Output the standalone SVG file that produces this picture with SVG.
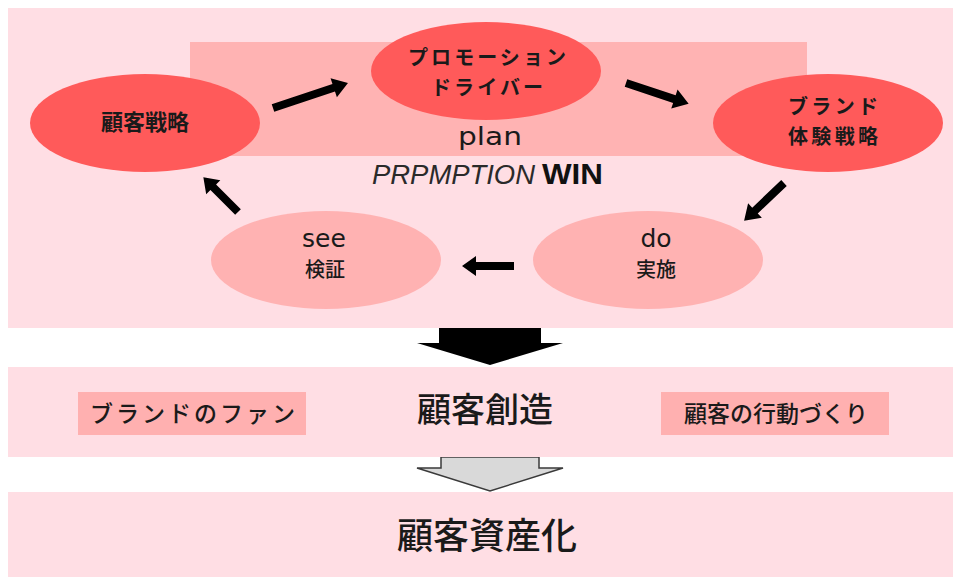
<svg xmlns="http://www.w3.org/2000/svg" width="954" height="579" viewBox="0 0 954 579">
<style>
.band{fill:#FFDEE4}
.plan{fill:#FFB3B3}
.red{fill:#FF5A5A}
.lite{fill:#FFB2B2}
.box{fill:#FFB0B0}
.jp{font-family:"Noto Sans CJK JP","Noto Sans",sans-serif;fill:#1a1a1a;text-anchor:middle}
.nt{font-size:22px;font-weight:bold}
.n2{font-size:20px;font-weight:bold}
.nl{font-size:20px;font-weight:500}
.en{font-family:"DejaVu Sans","Liberation Sans",sans-serif;fill:#1a1a1a;text-anchor:middle}
.arr{fill:#000}
</style>
<rect width="954" height="579" fill="#fff"/>
<g id="panel-top">
<rect class="band" x="8" y="8" width="945" height="320"/>
<rect class="plan" x="190" y="42" width="617" height="114"/>
<text class="en" x="490" y="145" font-size="25" textLength="64" lengthAdjust="spacingAndGlyphs">plan</text>
<text x="372" y="184" font-family="'Liberation Sans',Arial,sans-serif" font-size="27" font-style="italic" fill="#2a2a2a" textLength="163" lengthAdjust="spacingAndGlyphs">PRPMPTION</text>
<text x="542" y="184" font-family="'Liberation Sans',Arial,sans-serif" font-size="29" font-weight="bold" fill="#111" textLength="61" lengthAdjust="spacingAndGlyphs">WIN</text>
</g>
<g id="node-kokyaku-senryaku">
<ellipse class="red" cx="145" cy="123" rx="115" ry="49"/>
<text class="jp nt" x="145" y="130">顧客戦略</text>
</g>
<g id="node-promotion">
<ellipse class="red" cx="486" cy="71" rx="115" ry="49"/>
<text class="jp n2" x="487" y="65" textLength="158" lengthAdjust="spacing">プロモーション</text>
<text class="jp n2" x="487" y="95" textLength="112" lengthAdjust="spacing">ドライバー</text>
</g>
<g id="node-brand">
<ellipse class="red" cx="828" cy="123" rx="115" ry="49"/>
<text class="jp n2" x="833" y="114" textLength="90" lengthAdjust="spacing">ブランド</text>
<text class="jp n2" x="833" y="144" textLength="90" lengthAdjust="spacing">体験戦略</text>
</g>
<g id="node-do">
<ellipse class="lite" cx="648" cy="260" rx="115" ry="49"/>
<text class="en" x="656" y="247" font-size="25">do</text>
<text class="jp nl" x="656" y="277">実施</text>
</g>
<g id="node-see">
<ellipse class="lite" cx="326" cy="260" rx="115" ry="49"/>
<text class="en" x="324" y="247" font-size="25">see</text>
<text class="jp nl" x="325" y="277">検証</text>
</g>
<g id="connectors">
<path class="arr" transform="translate(273,108) rotate(-18.4)" d="M0,-4 L64,-4 L64,-10 L79,0 L64,10 L64,4 L0,4 Z"/>
<path class="arr" transform="translate(626,83) rotate(18.4)" d="M0,-4 L51,-4 L51,-10 L66,0 L51,10 L51,4 L0,4 Z"/>
<path class="arr" transform="translate(784,183) rotate(136.5)" d="M0,-4 L40,-4 L40,-10 L55,0 L40,10 L40,4 L0,4 Z"/>
<path class="arr" transform="translate(514,266) rotate(180)" d="M0,-4 L38,-4 L38,-10 L52,0 L38,10 L38,4 L0,4 Z"/>
<path class="arr" transform="translate(238,212) rotate(-135)" d="M0,-4 L35,-4 L35,-10 L49,0 L35,10 L35,4 L0,4 Z"/>
<path id="arrow-down-black" fill="#000" d="M439,328 L541,328 L541,343 L563,343 L490,365 L417,343 L439,343 Z"/>
<path id="arrow-down-gray" fill="#D9D9D9" stroke="#3a3a3a" stroke-width="1.5" d="M441,457 L539,457 L539,468 L563,468 L490,491 L417,468 L441,468 Z"/>
</g>
<g id="band-sozo">
<rect class="band" x="8" y="367" width="945" height="90"/>
<text class="jp" x="485" y="422" font-size="34" font-weight="500">顧客創造</text>
</g>
<g id="node-fan">
<rect class="box" x="78" y="392" width="228" height="43"/>
<text class="jp" x="194" y="422" font-size="23" font-weight="500" letter-spacing="3">ブランドのファン</text>
</g>
<g id="node-kodo">
<rect class="box" x="661" y="392" width="228" height="43"/>
<text class="jp" x="776" y="422" font-size="23" font-weight="500">顧客の行動づくり</text>
</g>
<g id="band-shisan">
<rect class="band" x="8" y="492" width="945" height="85"/>
<text class="jp" x="487" y="549" font-size="36" font-weight="500">顧客資産化</text>
</g>
</svg>
